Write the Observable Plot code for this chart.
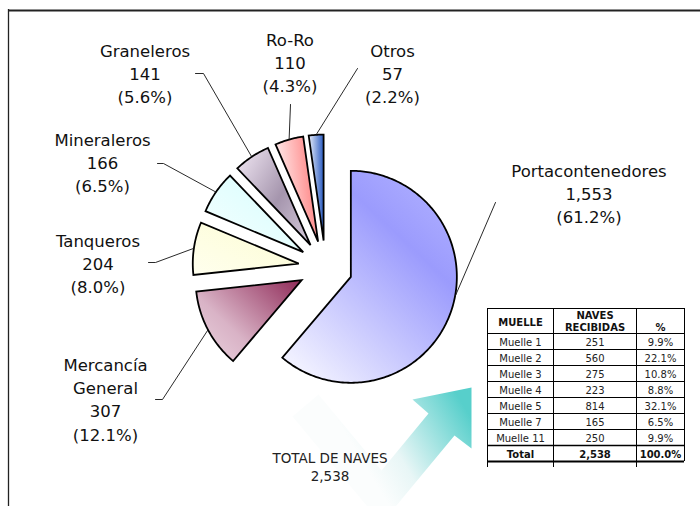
<!DOCTYPE html>
<html><head><meta charset="utf-8">
<script src="https://cdn.jsdelivr.net/npm/d3@7"></script>
<script src="https://cdn.jsdelivr.net/npm/@observablehq/plot@0.6"></script>
<style>body{margin:0;background:#fff} svg{display:block;background:#fff}</style>
</head><body><div id="chart"></div>
<script>
// ---------- data ----------
const categories = ["Portacontenedores", "Mercancía General", "Tanqueros", "Mineraleros", "Graneleros", "Ro-Ro", "Otros"];
const naves = [1553, 307, 204, 166, 141, 110, 57];
const muelles = ["Muelle 1", "Muelle 2", "Muelle 3", "Muelle 4", "Muelle 5", "Muelle 7", "Muelle 11"];
const muelleNaves = [251, 560, 275, 223, 814, 165, 250];
const tableHeaders = ["MUELLE", "NAVES\nRECIBIDAS", "%"];
const totalRowLabel = "Total";
const totalTitle = "TOTAL DE NAVES";

// ---------- layout ----------
const W = 700, H = 506;
const pieC = [325, 267], pieR = 106, explode = 27;
// label text centre x, first baseline y, leader start, optional elbow, attach fraction along slice arc
const labelLayout = [
  {x: 588.5, y: 176, start: [495, 202], attach: 0.458},
  {x: 105, y: 370, start: [155, 399], elbow: [162, 399]},
  {x: 97.5, y: 246, start: [148, 262], elbow: [155, 262]},
  {x: 102, y: 145, start: [157, 163], elbow: [163, 163]},
  {x: 144.5, y: 56, start: [195, 73], elbow: [203, 73]},
  {x: 289.5, y: 45, start: [290, 104]},
  {x: 392, y: 56, start: [357, 68]}
];
const lineGap = 23.4, labelSize = 16.5;
const sliceGradients = [
  {x1: 0.2, y1: 1, x2: 0.85, y2: 0.15, stops: [[0, "#f0f0ff"], [0.78, "#9b9bfd"], [1, "#a9a9ff"]]},
  {x1: 0, y1: 0.9, x2: 1, y2: 0.1, stops: [[0, "#e9d0dd"], [0.35, "#d9b3c6"], [1, "#94335f"]]},
  {x1: 0, y1: 1, x2: 1, y2: 0, stops: [[0, "#ffffee"], [1, "#fcfcd2"]]},
  {x1: 0, y1: 1, x2: 1, y2: 0, stops: [[0, "#f6ffff"], [1, "#d4fdfd"]]},
  {x1: 0, y1: 0.1, x2: 1, y2: 0.9, stops: [[0, "#ede3f0"], [0.55, "#a595ad"], [1, "#d3c8d9"]]},
  {x1: 0, y1: 0.6, x2: 1, y2: 0.35, stops: [[0, "#fff6f6"], [0.78, "#ff9696"], [1, "#ffb8b8"]]},
  {x1: 0, y1: 0.5, x2: 1, y2: 0.5, stops: [[0, "#e8eefa"], [1, "#2b5cc2"]]}
];
const tableX = [487, 553, 636, 684];
const tableTop = 308, headerH = 25, rowH = 16;
const arrowShape = [[471, 387], [471, 448], [454, 435], [381, 523], [292, 416], [318, 394], [381, 470], [428, 413], [412, 399]];
const font = "DejaVu Sans, Verdana, sans-serif";

// ---------- derived ----------
const total = d3.sum(naves);
const fmtN = d3.format(","), fmtP = d3.format(".1%");
const arcs = d3.pie().sort(null).value(d => d)(naves);

const slices = arcs.map((a, i) => {
  const mid = (a.startAngle + a.endAngle) / 2;
  const ox = pieC[0] + explode * Math.sin(mid), oy = pieC[1] - explode * Math.cos(mid);
  const pts = [{x: ox, y: oy}];
  const n = Math.max(2, Math.ceil((a.endAngle - a.startAngle) / (Math.PI / 180)));
  for (let k = 0; k <= n; k++) {
    const t = a.startAngle + (a.endAngle - a.startAngle) * k / n;
    pts.push({x: ox + pieR * Math.sin(t), y: oy - pieR * Math.cos(t)});
  }
  const f = labelLayout[i].attach ?? 0.5;
  const at = a.startAngle + (a.endAngle - a.startAngle) * f;
  const attach = {x: ox + pieR * Math.sin(at), y: oy - pieR * Math.cos(at)};
  return {pts, attach};
});

const labels = categories.map((c, i) => {
  const lines = [...c.split(" "), fmtN(naves[i]), `(${fmtP(naves[i] / total)})`];
  return {x: labelLayout[i].x, y: labelLayout[i].y + (lines.length - 1) * lineGap, text: lines.join("\n")};
});

const leaders = labelLayout.map((L, i) => {
  const p = [{x: L.start[0], y: L.start[1]}];
  if (L.elbow) p.push({x: L.elbow[0], y: L.elbow[1]});
  p.push(slices[i].attach);
  return p;
});

const colX = [0, 1, 2].map(j => (tableX[j] + tableX[j + 1]) / 2);
const rows = muelles.map((m, i) => ({cells: [m, fmtN(muelleNaves[i]), fmtP(muelleNaves[i] / total)], bold: false}));
rows.push({cells: [totalRowLabel, fmtN(d3.sum(muelleNaves)), fmtP(d3.sum(muelleNaves) / total)], bold: true});
const cellText = [];
rows.forEach((r, i) => r.cells.forEach((t, j) => cellText.push({x: colX[j], y: tableTop + headerH + i * rowH + 12, t, bold: r.bold})));
const tableBottom = tableTop + headerH + rows.length * rowH;
const hLines = [{y: tableTop, w: 1.2}, {y: tableTop + headerH, w: 1}];
for (let k = 1; k <= rows.length; k++) hLines.push({y: tableTop + headerH + k * rowH, w: k === rows.length - 1 ? 1.6 : k === rows.length ? 2 : 1});
const vLines = tableX.map((x, j) => ({x, y2: j < 3 ? tableBottom + 6 : tableBottom}));
const headerText = [
  {x: colX[0], y: tableTop + 17, t: tableHeaders[0]},
  {x: colX[1], y: tableTop + 22, t: tableHeaders[1]},
  {x: colX[2], y: tableTop + 22, t: tableHeaders[2]}
];

const marks = [
  Plot.ruleY([10], {x1: 8, x2: W, stroke: "#222", strokeWidth: 2}),
  Plot.ruleX([8], {y1: 9, y2: H, stroke: "#222", strokeWidth: 1.3}),
  Plot.line(arrowShape.map(([x, y]) => ({x, y})), {x: "x", y: "y", curve: "linear-closed", fill: "url(#arrowGrad)", stroke: "none"}),
  ...slices.map((s, i) => Plot.line(s.pts, {x: "x", y: "y", curve: "linear-closed", fill: `url(#g${i})`, stroke: "#000", strokeWidth: 1.8, strokeLinejoin: "miter", strokeMiterlimit: 4})),
  ...leaders.map(p => Plot.line(p, {x: "x", y: "y", stroke: "#111", strokeWidth: 0.9, strokeLinejoin: "miter"})),
  Plot.text(labels, {x: "x", y: "y", text: "text", lineAnchor: "bottom", lineHeight: lineGap / labelSize, fontSize: labelSize, fill: "#111", textAnchor: "middle", fontFamily: font}),
  Plot.text([`${totalTitle}\n${fmtN(total)}`], {x: 329.5, y: 480, text: d => d, lineAnchor: "bottom", lineHeight: 18 / 13.5, fontSize: 13.5, fill: "#222", textAnchor: "middle", fontFamily: font}),
  Plot.ruleY(hLines, {y: "y", x1: tableX[0], x2: tableX[3], stroke: "#000", strokeWidth: "w"}),
  Plot.ruleX(vLines, {x: "x", y1: tableTop, y2: "y2", stroke: "#000", strokeWidth: 1}),
  Plot.text(headerText, {x: "x", y: "y", text: "t", lineAnchor: "bottom", lineHeight: 1.2, fontSize: 10, fontWeight: "bold", fill: "#111", textAnchor: "middle", fontFamily: font}),
  Plot.text(cellText.filter(d => !d.bold), {x: "x", y: "y", text: "t", lineAnchor: "bottom", fontSize: 10, fill: "#222", textAnchor: "middle", fontFamily: font}),
  Plot.text(cellText.filter(d => d.bold), {x: "x", y: "y", text: "t", lineAnchor: "bottom", fontSize: 10, fontWeight: "bold", fill: "#111", textAnchor: "middle", fontFamily: font})
];

const chart = Plot.plot({
  width: W, height: H, margin: 0,
  x: {domain: [0, W], range: [0, W], axis: null},
  y: {domain: [0, H], range: [0, H], axis: null},
  style: {fontFamily: font, background: "#fff"},
  marks
});

const defs = d3.select(chart).insert("defs", ":first-child");
sliceGradients.forEach((g, i) => {
  const lg = defs.append("linearGradient").attr("id", `g${i}`)
    .attr("x1", g.x1).attr("y1", g.y1).attr("x2", g.x2).attr("y2", g.y2);
  g.stops.forEach(([o, c]) => lg.append("stop").attr("offset", o).attr("stop-color", c));
});
const ag = defs.append("linearGradient").attr("id", "arrowGrad").attr("gradientUnits", "userSpaceOnUse")
  .attr("x1", 471).attr("y1", 418).attr("x2", 372).attr("y2", 478);
ag.append("stop").attr("offset", 0).attr("stop-color", "#57cfcb");
ag.append("stop").attr("offset", 0.7).attr("stop-color", "#e8f6f6");
ag.append("stop").attr("offset", 1).attr("stop-color", "#fbfdfd");

document.getElementById("chart").appendChild(chart);
</script></body></html>
